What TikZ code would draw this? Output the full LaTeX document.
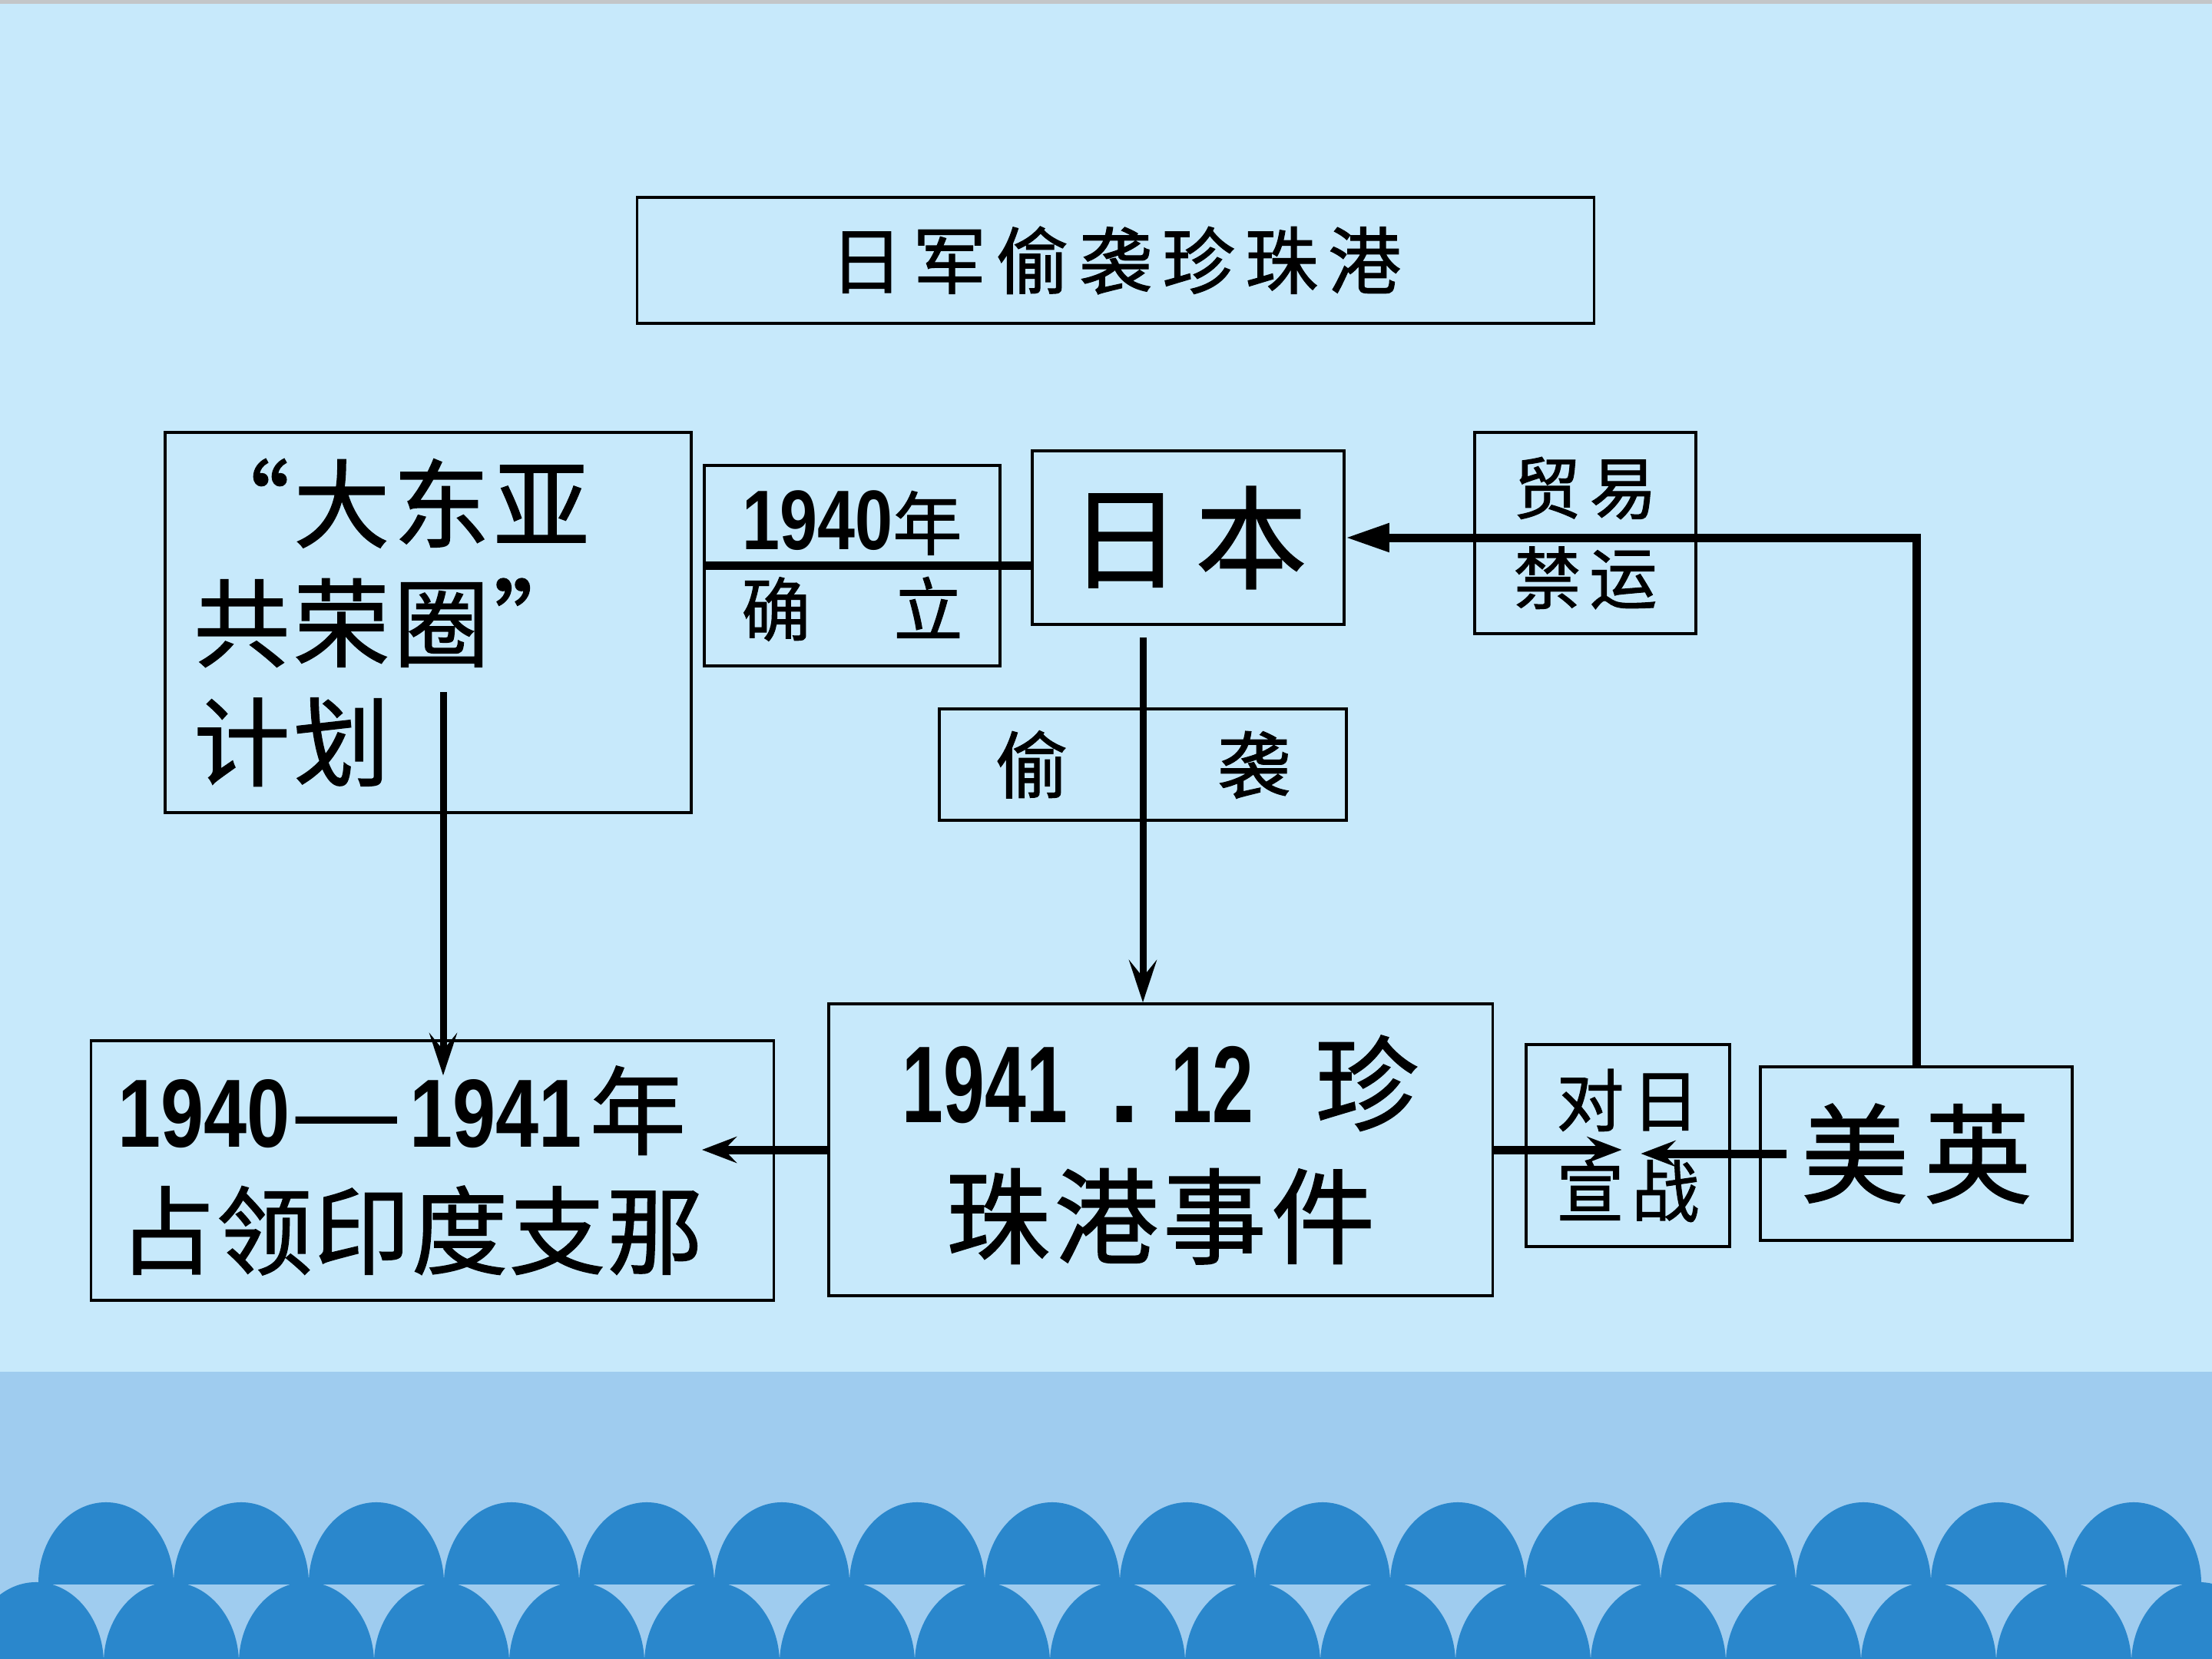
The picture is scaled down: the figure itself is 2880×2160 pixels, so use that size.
\documentclass[tikz,border=0pt]{standalone}
\usepackage{fontspec}
\usepackage{graphicx}
\setmainfont{Noto Sans CJK SC}[FakeBold=1.2]
\newfontfamily\dg{Liberation Sans}[Scale=1.0]
\usetikzlibrary{arrows.meta}

\definecolor{sky}{HTML}{C7E9FB}
\definecolor{band}{HTML}{9FCCEF}
\definecolor{wave}{HTML}{2A87CC}
\definecolor{topline}{HTML}{C3C6C8}

\newcommand\fs[2]{\fontsize{#1}{#2}\selectfont}
\makeatletter
\newcommand\spaced[2]{\@tfor\onech:=#2\do{\makebox[#1]{\onech}}}
\makeatother

\tikzset{
  labelbox/.style={draw, line width=0.35mm, inner sep=0pt},
  thickline/.style={line width=1.1mm},
  thinarrow/.style={line width=0.9mm, -{Stealth[length=5.5mm, width=3.6mm, inset=2.2mm]}},
  thickarrow/.style={thickline, -{Stealth[length=4.5mm, width=3.4mm, inset=1.6mm]}},
  triarrow/.style={thickline, -{Triangle[length=5.7mm, width=3.5mm]}}
}

\begin{document}
\begin{tikzpicture}[x=0.01cm, y=-0.01cm]
\useasboundingbox (0,0) rectangle (2880,2160);
\clip (0,0) rectangle (2880,2160);

% Hintergrund (sky, band, waves)
\fill[sky] (0,0) rectangle (2880,2160);
\fill[topline] (0,0) rectangle (2880,5);
\fill[band] (0,1786) rectangle (2880,2160);
\begin{scope}
\clip (0,1900) rectangle (2880,2062);
\foreach \k in {0,...,15}
  \fill[wave] (138+176*\k,2062) ellipse [x radius=8.8mm, y radius=10.6mm];
\end{scope}
\foreach \k in {0,...,16}
  \fill[wave] (47+176*\k,2166) ellipse [x radius=8.8mm, y radius=10.6mm];

% 标题 (title)
\node[labelbox, minimum width=124.5mm, minimum height=16.4mm, font=\fs{9.5mm}{11mm}] (title) at (1452.5,339)
  {\spaced{10.8mm}{日军偷袭珍珠港}};

% 大东亚共荣圈 (plan)
\node[labelbox, minimum width=68.5mm, minimum height=49.5mm, text width=61.5mm, inner xsep=3.5mm,
  align=left, font=\fs{12.5mm}{15.5mm}] (plan) at (557.5,810.5)
  {\spaced{13mm}{“大东亚}\\\spaced{13mm}{共荣圈”}\\\spaced{13mm}{计划}};

% 1940年确立 (estab)
\node[labelbox, minimum width=38.5mm, minimum height=26.1mm, align=center, font=\fs{9mm}{11.2mm}] (estab) at (1109.5,736.5)
  {{\dg\bfseries\fs{11mm}{11.2mm}\scalebox{0.8}[1]{1940}}年\\\makebox[30mm]{\spaced{19.8mm}{确立}}};

% 日本 (japan)
\node[labelbox, minimum width=40.6mm, minimum height=22.6mm, font=\fs{14.5mm}{15mm}] (japan) at (1547,700)
  {\spaced{16.4mm}{日本}};

% 贸易禁运 (embargo)
\node[labelbox, minimum width=28.8mm, minimum height=26.2mm, align=center, font=\fs{8.8mm}{11.7mm}] (embargo) at (2064,694)
  {\spaced{9.9mm}{贸易}\\\spaced{9.9mm}{禁运}};

% 偷袭 (sneak)
\node[labelbox, minimum width=53mm, minimum height=14.5mm, font=\fs{9.5mm}{10mm}] (sneak) at (1488,995.5)
  {\makebox[40mm]{\spaced{28.9mm}{偷袭}}};

% 珍珠港事件 (pearl)
\node[labelbox, minimum width=86.4mm, minimum height=38mm, align=center, font=\fs{13.5mm}{17.3mm}] (pearl) at (1511,1497)
  {{\dg\bfseries\fs{14.2mm}{17.3mm}\scalebox{0.68}[1]{1941}\hspace{5.5mm}.\hspace{4mm}\scalebox{0.68}[1]{12}}\hspace{8mm}珍\\
   \spaced{14.1mm}{珠港事件}};

% 占领印度支那 (occupy)
\node[labelbox, minimum width=88.8mm, minimum height=33.8mm, text width=81.8mm, inner xsep=3.5mm,
  align=left, font=\fs{12.5mm}{15.6mm}] (occupy) at (563,1524)
  {{\dg\bfseries\fs{12.6mm}{15.6mm}\scalebox{0.8}[1]{1940}}\scalebox{1.3}[1]{—}\hspace{1mm}{\dg\bfseries\fs{12.6mm}{15.6mm}\scalebox{0.8}[1]{1941}}\hspace{1mm}年\\
   \spaced{12.7mm}{占领印度支那}};

% 对日宣战 (declare)
\node[labelbox, minimum width=26.5mm, minimum height=26.3mm, align=center, font=\fs{8.8mm}{11.8mm}] (declare) at (2119.5,1491.5)
  {\spaced{9.8mm}{对日}\\\spaced{9.8mm}{宣战}};

% 美英 (meiying)
\node[labelbox, minimum width=40.6mm, minimum height=22.6mm, font=\fs{14mm}{15mm}] (meiying) at (2495,1502)
  {\spaced{16mm}{美英}};

% Verbindungen
\coordinate (planfoot) at (577,901);
\draw[thinarrow, shorten >=-4.7mm] (planfoot) -- (planfoot |- occupy.north);
\draw[thickline] (estab.west) -- (estab.west -| japan.west);
\draw[thinarrow, shorten <=1.5mm] (sneak |- japan.south) -- (sneak |- pearl.north);
\draw[triarrow] (meiying.north) |- (japan.east);
\draw[thickarrow, shorten >=-9.5mm] (pearl.west) -- (pearl.west -| occupy.east);
\draw[thickarrow, shorten >=0.8mm] (pearl.east) -- (pearl.east -| declare.center);
\draw[thickarrow, shorten <=-3.6mm, shorten >=1.7mm] (meiying.west) -- (meiying.west -| declare.center);

\end{tikzpicture}
\end{document}
